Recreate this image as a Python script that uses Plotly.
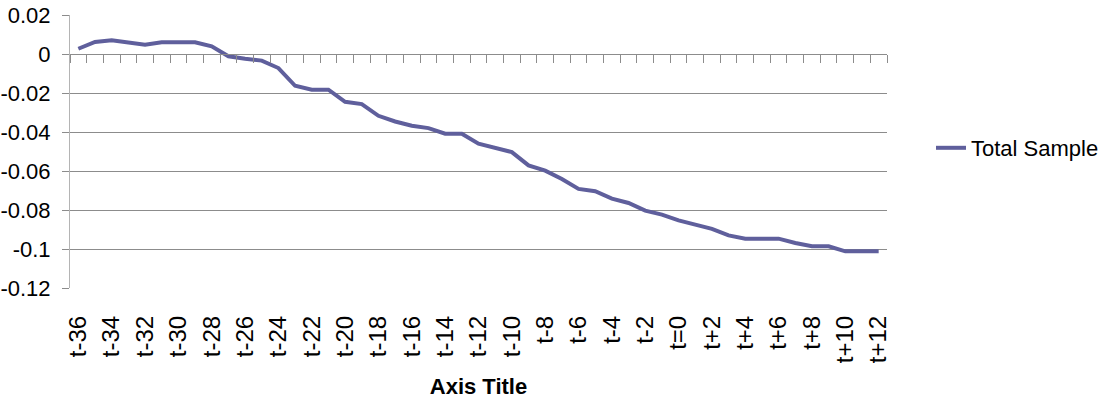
import plotly.graph_objects as go

categories = ["t-36", "t-35", "t-34", "t-33", "t-32", "t-31", "t-30", "t-29", "t-28", "t-27",
              "t-26", "t-25", "t-24", "t-23", "t-22", "t-21", "t-20", "t-19", "t-18", "t-17",
              "t-16", "t-15", "t-14", "t-13", "t-12", "t-11", "t-10", "t-9", "t-8", "t-7",
              "t-6", "t-5", "t-4", "t-3", "t-2", "t-1", "t=0", "t+1", "t+2", "t+3",
              "t+4", "t+5", "t+6", "t+7", "t+8", "t+9", "t+10", "t+11", "t+12"]

total_sample = [0.0027, 0.0062, 0.0070, 0.0060, 0.0048, 0.0060, 0.0060, 0.0060, 0.0039, -0.0012,
                -0.0024, -0.0034, -0.0072, -0.0163, -0.0183, -0.0183, -0.0245, -0.0257, -0.0317, -0.0346,
                -0.0368, -0.0380, -0.0409, -0.0409, -0.0460, -0.0479, -0.0503, -0.0571, -0.0598, -0.0641,
                -0.0692, -0.0704, -0.0742, -0.0764, -0.0803, -0.0824, -0.0853, -0.0875, -0.0897, -0.0930,
                -0.0947, -0.0947, -0.0947, -0.0969, -0.0986, -0.0986, -0.1012, -0.1012, -0.1012]

tick_labels = categories[::2]
y_ticks = [0.02, 0, -0.02, -0.04, -0.06, -0.08, -0.1, -0.12]
y_tick_text = ["0.02", "0", "-0.02", "-0.04", "-0.06", "-0.08", "-0.1", "-0.12"]

FONT = "Liberation Sans, Arial, sans-serif"
GRID = "#8c8c8c"
LINE = "#5f5f9c"

fig = go.Figure()
fig.add_trace(go.Scatter(x=categories, y=total_sample, mode="lines", name="Total Sample",
                         line=dict(color=LINE, width=4)))
# invisible trace to carry the tick-mark axis crossing at zero
fig.add_trace(go.Scatter(x=categories, y=total_sample, mode="lines", xaxis="x2",
                         line=dict(color="rgba(0,0,0,0)", width=0), showlegend=False,
                         hoverinfo="skip"))

fig.update_layout(
    width=1103, height=399,
    margin=dict(l=70, r=216, t=15, b=111, autoexpand=False),
    paper_bgcolor="white", plot_bgcolor="white",
    font=dict(family=FONT, size=22, color="black"),
    showlegend=True,
    legend=dict(xref="container", yref="container", x=931 / 1103, y=1 - 148 / 399,
                xanchor="left", yanchor="middle", font=dict(size=22),
                bgcolor="rgba(0,0,0,0)", borderwidth=0),
    xaxis=dict(type="category", categoryorder="array", categoryarray=categories,
               range=[-0.5, len(categories) - 0.5], automargin=False,
               tickmode="array", tickvals=tick_labels, ticktext=tick_labels,
               tickangle=-90, ticks="", showgrid=False, showline=False, zeroline=False,
               tickfont=dict(size=24), ticklabelstandoff=22,
               title=dict(text="<b>Axis Title</b>", font=dict(size=22), standoff=17)),
    xaxis2=dict(type="category", categoryorder="array", categoryarray=categories,
                range=[-0.5, len(categories) - 0.5], overlaying="x", anchor="free",
                position=0.12 / 0.14, side="bottom", automargin=False,
                showticklabels=False, ticks="outside", tickson="boundaries",
                ticklen=8, tickcolor=GRID, tickwidth=1,
                showline=True, linecolor=GRID, linewidth=1, showgrid=False, zeroline=False),
    yaxis=dict(range=[-0.12, 0.02], tickmode="array", tickvals=y_ticks, ticktext=y_tick_text,
               showgrid=True, gridcolor=GRID, gridwidth=1, zeroline=False, automargin=False,
               showline=True, linecolor="#b4b4b4", linewidth=1,
               ticks="outside", ticklen=7, tickcolor=GRID, ticklabelstandoff=7,
               ticklabeloverflow="allow", tickfont=dict(size=22)),
)

fig.write_html("out.html", config={"displayModeBar": False},
               post_script="document.body.style.margin='0';")
